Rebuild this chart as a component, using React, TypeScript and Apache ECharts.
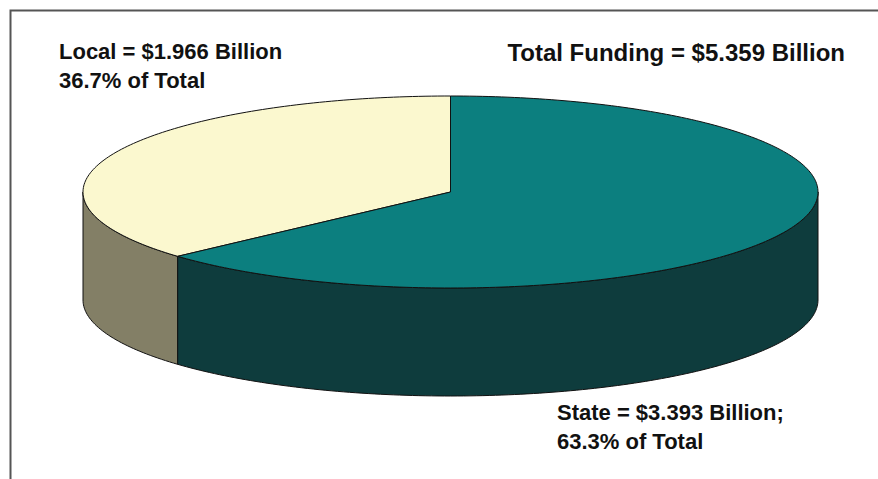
import React, { useEffect, useRef } from "react";
import * as echarts from "echarts";

// ---- data ----
const categories = ["Local", "State"];
const values = [1.966, 3.393]; // $ billions
const totalLabel = "Total Funding = $5.359 Billion";
const localLabelLines = ["Local = $1.966 Billion", "36.7% of Total"];
const stateLabelLines = ["State = $3.393 Billion;", "63.3% of Total"];

// ---- styles ----
const topColors = ["#fbf8cf", "#0c7f7f"];
const sideColors = ["#837f66", "#0e3c3d"];
const FAMILY = '"Liberation Sans", Arial, sans-serif';

// pie geometry (pixels)
const CX = 450.5;
const CY = 192;
const RX = 367.5;
const RY = 96;
const DEPTH = 108;

function pt(deg: number, dy = 0): number[] {
  const r = (deg * Math.PI) / 180;
  return [CX + RX * Math.cos(r), CY - RY * Math.sin(r) + dy];
}

function arcPoints(a0: number, a1: number, dy = 0): number[][] {
  const pts: number[][] = [];
  const steps = Math.max(2, Math.ceil(Math.abs(a1 - a0)));
  for (let i = 0; i <= steps; i++) {
    pts.push(pt(a0 + ((a1 - a0) * i) / steps, dy));
  }
  return pts;
}

function renderItem(params: any, api: any) {
  const idx = params.dataIndex;
  const total = values.reduce((s, v) => s + v, 0);
  let before = 0;
  for (let i = 0; i < idx; i++) before += values[i];
  const v = api.value(0);
  const start = 90 + (before / total) * 360;
  const end = start + (v / total) * 360;

  const children: any[] = [];
  const ranges = [
    [180, 360],
    [540, 720],
  ];
  for (const [r0, r1] of ranges) {
    const a0 = Math.max(start, r0);
    const a1 = Math.min(end, r1);
    if (a1 > a0) {
      const top = arcPoints(a0, a1, 0);
      const bottom = arcPoints(a1, a0, DEPTH);
      children.push({
        type: "polygon",
        z2: 1,
        shape: { points: top.concat(bottom) },
        style: { fill: sideColors[idx], stroke: "#111", lineWidth: 1 },
      });
    }
  }
  children.push({
    type: "polygon",
    z2: 2,
    shape: { points: [[CX, CY]].concat(arcPoints(start, end, 0)) },
    style: { fill: topColors[idx], stroke: "#111", lineWidth: 1 },
  });
  return { type: "group", children };
}

export default function App() {
  const ref = useRef<HTMLDivElement>(null);
  useEffect(() => {
    if (!ref.current) return;
    const chart = echarts.init(ref.current, null, { renderer: "svg" });
    const textEl = (text: string, x: number, y: number, size: number, align = "left") => ({
      type: "text",
      x,
      y,
      z: 10,
      style: {
        text,
        font: `bold ${size}px ${FAMILY}`,
        fill: "#111",
        align,
        verticalAlign: "middle",
      },
    });
    chart.setOption({
      animation: false,
      backgroundColor: "#ffffff",
      graphic: [
        {
          type: "rect",
          shape: { x: 10.5, y: 10.5, width: 1000, height: 1000 },
          style: { fill: "none", stroke: "#555", lineWidth: 2 },
          z: 0,
        },
        textEl(localLabelLines[0], 59, 51, 22),
        textEl(localLabelLines[1], 59, 80, 22),
        textEl(totalLabel, 845, 52, 24, "right"),
        textEl(stateLabelLines[0], 557, 412, 22),
        textEl(stateLabelLines[1], 557, 441, 22),
      ],
      series: [
        {
          type: "custom",
          coordinateSystem: "none",
          renderItem,
          data: values.map((v, i) => ({ name: categories[i], value: [v] })),
        },
      ],
    });
    return () => chart.dispose();
  }, []);
  return (
    <div
      ref={ref}
      style={{ position: "absolute", left: 0, top: 0, width: 878, height: 479 }}
    />
  );
}
